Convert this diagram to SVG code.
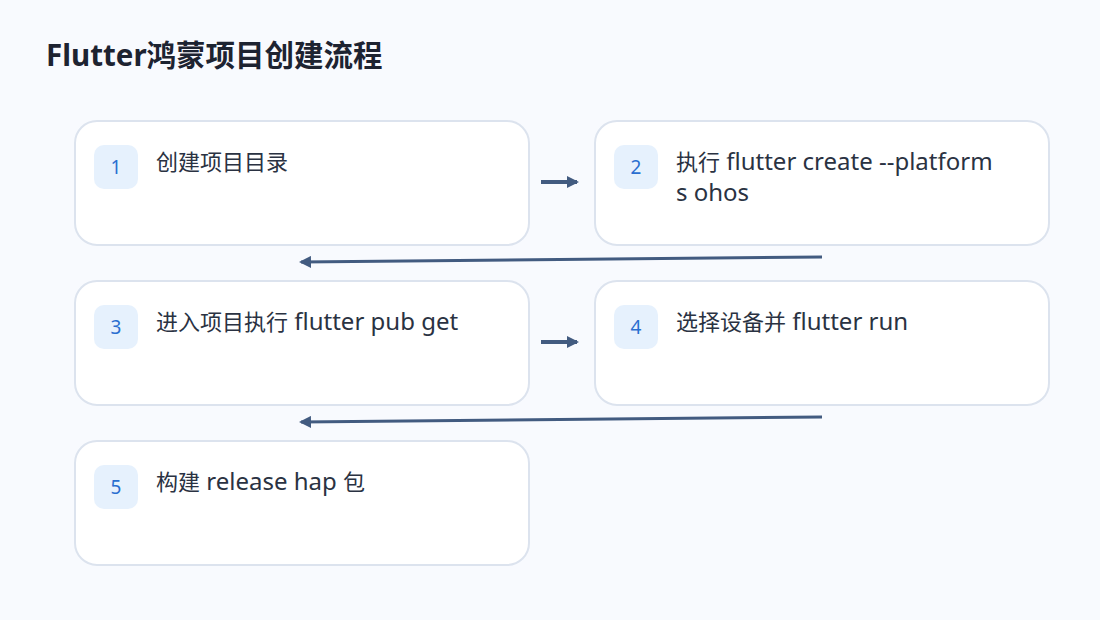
<svg xmlns="http://www.w3.org/2000/svg" width="1100" height="620" viewBox="0 0 1100 620">
<defs>
<style>
.card{fill:#ffffff;stroke:#dce3ee;stroke-width:2}
.badge{fill:#e6f1fd}
.num{font-family:"Noto Sans","Noto Sans CJK SC",sans-serif;font-size:19px;fill:#2a6fd0;text-anchor:middle}
.lbl{font-family:"Noto Sans","Noto Sans CJK SC",sans-serif;font-size:22px;fill:#2a3242}
.lt{font-size:24px}
.title{font-family:"Noto Sans","Noto Sans CJK SC",sans-serif;font-size:29.5px;font-weight:700;fill:#1d2331}
.conn{fill:none;stroke:#425b80;stroke-width:3}
.fw{stroke-width:4}
</style>
<marker id="ah" markerWidth="12" markerHeight="12" refX="10" refY="6" orient="auto" markerUnits="userSpaceOnUse">
<path d="M0,0 L12,6 L0,12 z" fill="#425b80"/>
</marker>
</defs>
<rect width="1100" height="620" fill="#f8fafe"/>
<text class="title" x="46" y="66">Flutter鸿蒙项目创建流程</text>
<g id="n1">
<rect class="card" x="75" y="121" width="454" height="124" rx="22"/>
<rect class="badge" x="94" y="145" width="44" height="44" rx="10"/>
<text class="num" x="116" y="174">1</text>
<text class="lbl" x="156" y="170">创建项目目录</text>
</g>
<g id="n2">
<rect class="card" x="595" y="121" width="454" height="124" rx="22"/>
<rect class="badge" x="614" y="145" width="44" height="44" rx="10"/>
<text class="num" x="636" y="174">2</text>
<text class="lbl" x="676" y="170">执行<tspan class="lt"> flutter create --platform</tspan></text>
<text class="lbl" x="676" y="201"><tspan class="lt">s ohos</tspan></text>
</g>
<g id="n3">
<rect class="card" x="75" y="281" width="454" height="124" rx="22"/>
<rect class="badge" x="94" y="305" width="44" height="44" rx="10"/>
<text class="num" x="116" y="334">3</text>
<text class="lbl" x="156" y="330">进入项目执行<tspan class="lt"> flutter pub get</tspan></text>
</g>
<g id="n4">
<rect class="card" x="595" y="281" width="454" height="124" rx="22"/>
<rect class="badge" x="614" y="305" width="44" height="44" rx="10"/>
<text class="num" x="636" y="334">4</text>
<text class="lbl" x="676" y="330">选择设备并<tspan class="lt"> flutter run</tspan></text>
</g>
<g id="n5">
<rect class="card" x="75" y="441" width="454" height="124" rx="22"/>
<rect class="badge" x="94" y="465" width="44" height="44" rx="10"/>
<text class="num" x="116" y="494">5</text>
<text class="lbl" x="156" y="490">构建<tspan class="lt"> release hap </tspan>包</text>
</g>
<g id="connectors">
<line class="conn fw" x1="541" y1="182" x2="577" y2="182" marker-end="url(#ah)"/>
<line class="conn" x1="822" y1="257" x2="301" y2="262" marker-end="url(#ah)"/>
<line class="conn fw" x1="541" y1="342" x2="577" y2="342" marker-end="url(#ah)"/>
<line class="conn" x1="822" y1="417" x2="301" y2="422" marker-end="url(#ah)"/>
</g>
</svg>
